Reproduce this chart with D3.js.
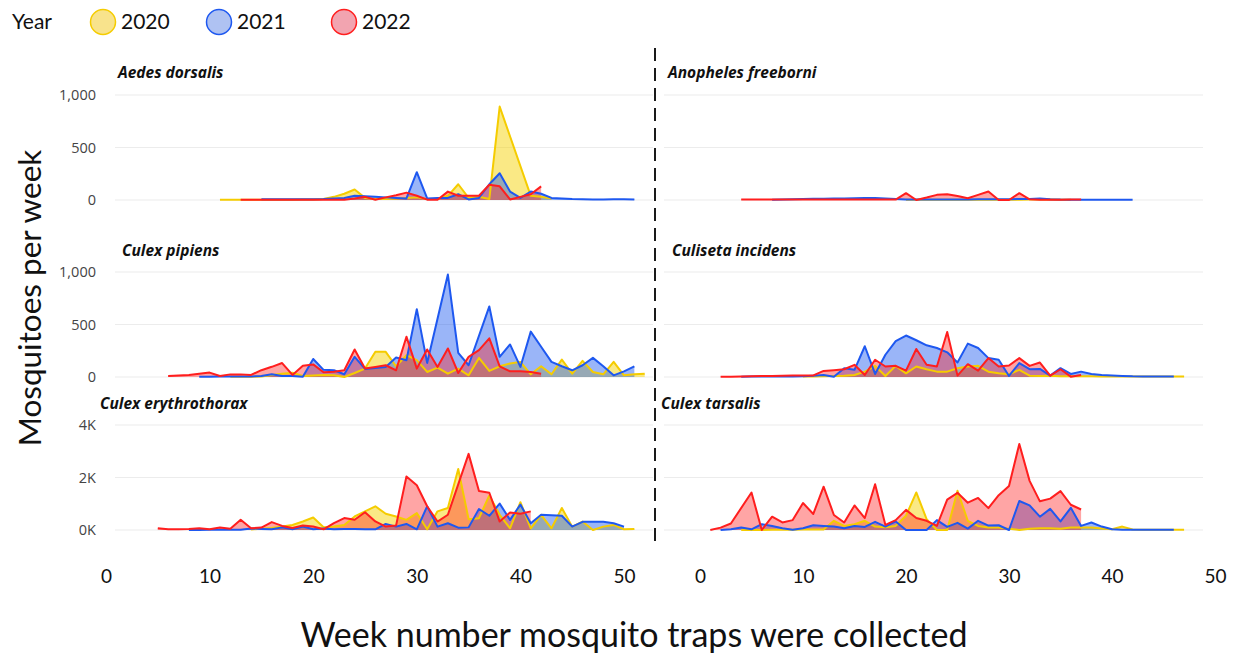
<!DOCTYPE html>
<html>
<head>
<meta charset="utf-8">
<script src="https://cdn.jsdelivr.net/npm/d3@7"></script>
<style>
  body { margin: 0; background: #fff; }
  svg { display: block; }
</style>
</head>
<body>
<div id="chart"></div>
<script>
// years in the legend
const years = ['2020', '2021', '2022'];

// weekly mosquito counts, one array per species and year (null = no point that week)
const aedesDorsalisStart = [11, 15, 13];
const aedesDorsalis2020 = [2, 2, 2, 2, 3, 3, 3, 3, 4, 5, 10, 30, 60, 100, 20, 10, 10, 15, 20, 25, 10, 10, 40, 150, 20, 30, 10, 890, null, null, 40, 30, 15];
const aedesDorsalis2021 = [8, 8, 6, 6, 6, 8, 10, 15, 20, 40, 35, 30, 25, 20, 15, 265, 15, 20, 20, 55, 5, 20, 150, 255, 80, 20, 80, 60, 20, 15, 10, 8, 5, 5, 8, 8, 5];
const aedesDorsalis2022 = [3, 3, 3, 3, 3, 3, 3, 3, 3, 3, 3, 15, 30, 3, 25, 45, 70, 40, 3, 3, 80, 40, 40, 40, 145, 130, 5, 30, 55, 130];

const anophelesFreeborniStart = [20, 7, 4];
const anophelesFreeborni2020 = [2, 2, 3, 3, 3, 2, 2, 3, 3, 2, 2, 3, 5, 8, 5, 3, 2];
const anophelesFreeborni2021 = [3, 5, 8, 10, 12, 12, 14, 15, 16, 18, 18, 15, 10, 5, 5, 4, 4, 5, 5, 5, 6, 6, 6, 8, 10, 10, 15, 8, 4, 3, 3, 3, 3, 3, 3, 3];
const anophelesFreeborni2022 = [5, 5, 4, 4, 4, 4, 4, 4, 4, 4, 4, 4, 4, 4, 4, 4, 65, 0, 23, 49, 55, 39, 16, 49, 81, 0, 0, 65, 7, 3, 3, 3, 5, 5];

const culexPipiensStart = [12, 9, 6];
const culexPipiens2020 = [2, 2, 3, 5, 20, 30, 40, 10, 15, 20, 16, 0, 38, 80, 240, 240, 102, 208, 160, 48, 90, 32, 80, 16, 182, 58, 102, 128, 144, 26, 102, 26, 166, 32, 154, 48, 26, 144, 16, 26, 32];
const culexPipiens2021 = [3, 3, 5, 5, 5, 5, 10, 26, 10, 10, 3, 172, 68, 64, 26, 192, 77, 86, 96, 186, 160, 646, 134, null, 976, 230, 112, null, 672, 192, 310, 96, 432, 288, 144, 102, 64, 112, 182, 102, 16, 54, 102];
const culexPipiens2022 = [10, 15, 20, 30, 42, 10, 25, 25, 20, 65, 97, 133, 20, 107, 120, 45, 50, 64, 262, 80, 96, 112, 64, 384, 80, 262, 96, 272, 38, 192, 256, 368, 102, 54, 54, 48, 32];

const culisetaIncidensStart = [10, 4, 2];
const culisetaIncidens2020 = [5, 5, 8, 10, 12, 19, 51, 106, 10, 106, 35, 100, 74, 51, 51, 84, 100, 106, 51, 35, 26, 68, 13, 10, 13, 8, 8, 6, 6, 5, 5, 5, 5, 5, 5, 5, 5, 5];
const culisetaIncidens2021 = [3, 4, 5, 5, 5, 5, 6, 13, 19, 3, 84, 68, 293, 29, 212, 341, 395, 350, 302, 276, 235, 138, 318, 276, 180, 164, 10, 132, 74, 77, 13, 84, 29, 51, 29, 20, 15, 10, 6, 5, 5, 5, 5];
const culisetaIncidens2022 = [3, 3, 5, 8, 10, 10, 12, 15, 15, 15, 58, 65, 74, 116, 19, 164, 100, 106, 61, 267, 116, 100, 428, 13, 122, 61, 180, 100, 109, 180, 106, 138, 13, 74, 3, 19];

const culexErythrothoraxStart = [14, 8, 5];
const culexErythrothorax2020 = [20, 50, 80, 130, 193, 322, 477, 103, 130, 193, 516, 710, 903, 619, 516, 387, 645, 26, 710, 839, 2322, 413, 452, 1316, 580, 65, 1058, 65, 580, 65, 839, 129, 322, 0, 129, 193, 26, 40];
const culexErythrothorax2021 = [3, 3, 5, 5, 8, 10, 60, 40, 26, 100, 26, 130, 26, 60, 26, 40, 40, 30, 26, 232, 129, 232, 26, 903, 129, 258, 90, 100, 800, 542, 1006, 387, 968, 258, 580, 560, 542, 129, 310, 310, 310, 258, 129];
const culexErythrothorax2022 = [65, 26, 26, 39, 65, 26, 91, 52, 390, 65, 91, 300, 156, 78, 170, 130, 26, 260, 456, 390, 677, 326, 130, 170, 2038, 1703, 903, 322, 580, null, 2900, 1483, 1419, 322, 670, 619, 709];

const culexTarsalisStart = [4, 2, 1];
const culexTarsalis2020 = [0, 0, 0, 5, 10, 10, 15, 20, 20, 351, 156, 221, 351, 130, 104, 156, 545, 1430, 416, 0, 0, 1495, 351, 156, 91, 91, 52, 0, 52, 65, 65, 52, 91, 91, 91, 60, 26, 130, 20, 10, 5, 5, 5, 5];
const culexTarsalis2021 = [0, 26, 91, 26, 221, 156, 65, 13, 65, 182, 156, 130, 65, 156, 117, 312, 130, 325, 0, 0, 0, 377, 117, 273, 52, 351, 169, 182, 0, 1105, 936, 507, 806, 325, 845, 156, 287, 130, 26, 10, 8, 5, 5, 5, 5];
const culexTarsalis2022 = [0, 91, 247, null, 1430, 0, 507, 286, 377, 1027, 611, 1651, 572, 286, 936, 455, 1742, 195, 377, 767, 455, 351, 156, 1157, 1417, 1040, 1222, 832, 1326, 1677, 3276, 1872, 1092, 1196, 1482, 962, 780];

// y axis ticks per row
const rowTickValues = [[0, 500, 1000], [0, 500, 1000], [0, 2000, 4000]];
const xTickValues = [0, 10, 20, 30, 40, 50];

const width = 1233;
const height = 658;
const strokeColors = ['#F5CC00', '#1E58F0', '#FF1E1E'];
const fillColors = ['rgba(245,208,0,0.48)', 'rgba(30,90,240,0.45)', 'rgba(255,30,30,0.40)'];
const legendFill = ['#F8E38C', '#AFC2F2', '#F2A4B0'];

const panels = [
    { name: 'Aedes dorsalis', start: aedesDorsalisStart, data: [aedesDorsalis2020, aedesDorsalis2021, aedesDorsalis2022], row: 0, col: 0, tx: 118, ty: 78 },
    { name: 'Anopheles freeborni', start: anophelesFreeborniStart, data: [anophelesFreeborni2020, anophelesFreeborni2021, anophelesFreeborni2022], row: 0, col: 1, tx: 668, ty: 78 },
    { name: 'Culex pipiens', start: culexPipiensStart, data: [culexPipiens2020, culexPipiens2021, culexPipiens2022], row: 1, col: 0, tx: 122, ty: 256 },
    { name: 'Culiseta incidens', start: culisetaIncidensStart, data: [culisetaIncidens2020, culisetaIncidens2021, culisetaIncidens2022], row: 1, col: 1, tx: 672, ty: 256 },
    { name: 'Culex erythrothorax', start: culexErythrothoraxStart, data: [culexErythrothorax2020, culexErythrothorax2021, culexErythrothorax2022], row: 2, col: 0, tx: 100, ty: 409 },
    { name: 'Culex tarsalis', start: culexTarsalisStart, data: [culexTarsalis2020, culexTarsalis2021, culexTarsalis2022], row: 2, col: 1, tx: 661, ty: 409 },
];

const xScales = [
    d3.scaleLinear().domain([0, 50]).range([106, 624]),
    d3.scaleLinear().domain([0, 50]).range([700, 1215]),
];
const yScales = [
    d3.scaleLinear().domain([0, 1000]).range([200, 95]),
    d3.scaleLinear().domain([0, 1000]).range([377, 272]),
    d3.scaleLinear().domain([0, 4000]).range([530, 425]),
];
const gridExtent = [[115, 653], [664, 1203]];
const yFormats = [d3.format(','), d3.format(','), d => `${d / 1000}K`];

const toPoints = (start, vals) =>
    vals.map((v, i) => ({ week: start + i, value: v })).filter(d => d.value !== null);

const svg = d3
    .select('#chart')
    .append('svg')
    .attr('width', width)
    .attr('height', height)
    .attr('viewBox', `0 0 ${width} ${height}`);

// legend
const legend = svg.append('g').style('font-family', 'Lato, sans-serif').style('font-size', '21px');
legend.append('text').attr('x', 12).attr('y', 29).attr('fill', '#111').text('Year');
const legendX = [103, 219, 344];
years.forEach((yr, i) => {
    legend.append('circle')
        .attr('cx', legendX[i]).attr('cy', 22).attr('r', 12.5)
        .attr('fill', legendFill[i])
        .attr('stroke', strokeColors[i])
        .attr('stroke-width', 1.5);
    legend.append('text')
        .attr('x', legendX[i] + 18).attr('y', 29)
        .attr('fill', '#111')
        .text(yr);
});

// gridlines and y ticks
[0, 1, 2].forEach(row => {
    const y = yScales[row];
    gridExtent.forEach(ext => {
        svg.append('g')
            .selectAll('line')
            .data(rowTickValues[row])
            .join('line')
            .attr('x1', ext[0]).attr('x2', ext[1])
            .attr('y1', d => y(d)).attr('y2', d => y(d))
            .attr('stroke', '#ececec')
            .attr('stroke-width', 1.2);
    });
    const axis = svg.append('g')
        .attr('transform', 'translate(96,0)')
        .call(d3.axisLeft(y).tickValues(rowTickValues[row]).tickSize(0).tickPadding(0).tickFormat(yFormats[row]));
    axis.select('.domain').remove();
    axis.selectAll('text')
        .style('font-family', '"Open Sans", sans-serif')
        .style('font-size', '14.5px')
        .attr('fill', '#444');
});

// series
panels.forEach(p => {
    const x = xScales[p.col];
    const y = yScales[p.row];
    const g = svg.append('g');
    const series = p.data.map((vals, i) => toPoints(p.start[i], vals));

    const area = d3.area().x(d => x(d.week)).y0(y(0)).y1(d => y(d.value));
    const line = d3.line().x(d => x(d.week)).y(d => y(d.value));

    g.selectAll('path.area')
        .data(series)
        .join('path')
        .attr('class', 'area')
        .attr('d', area)
        .attr('fill', (d, i) => fillColors[i]);

    g.selectAll('path.line')
        .data(series)
        .join('path')
        .attr('class', 'line')
        .attr('d', line)
        .attr('fill', 'none')
        .attr('stroke', (d, i) => strokeColors[i])
        .attr('stroke-width', 2)
        .attr('stroke-linejoin', 'round');

    svg.append('text')
        .attr('x', p.tx).attr('y', p.ty)
        .style('font-family', '"Open Sans", sans-serif')
        .style('font-size', '15.5px')
        .style('font-weight', 700)
        .style('font-style', 'italic')
        .attr('fill', '#111')
        .text(p.name);
});

// divider
svg.append('line')
    .attr('x1', 655).attr('x2', 655)
    .attr('y1', 48).attr('y2', 548)
    .attr('stroke', '#1a1a1a')
    .attr('stroke-width', 2)
    .attr('stroke-dasharray', '13 7');

// x axes
xScales.forEach(x => {
    const ax = svg.append('g')
        .attr('transform', 'translate(0,567)')
        .call(d3.axisBottom(x).tickValues(xTickValues).tickSize(0).tickPadding(2));
    ax.select('.domain').remove();
    ax.selectAll('text')
        .style('font-family', 'Lato, sans-serif')
        .style('font-size', '19px')
        .attr('fill', '#111');
});

// axis titles
svg.append('text')
    .attr('transform', 'translate(41,298) rotate(-90)')
    .attr('text-anchor', 'middle')
    .style('font-family', 'Lato, sans-serif')
    .style('font-size', '31.5px')
    .attr('fill', '#111')
    .text('Mosquitoes per week');

svg.append('text')
    .attr('x', 634).attr('y', 647)
    .attr('text-anchor', 'middle')
    .style('font-family', 'Lato, sans-serif')
    .style('font-size', '34px')
    .attr('fill', '#111')
    .text('Week number mosquito traps were collected');
</script>
</body>
</html>
